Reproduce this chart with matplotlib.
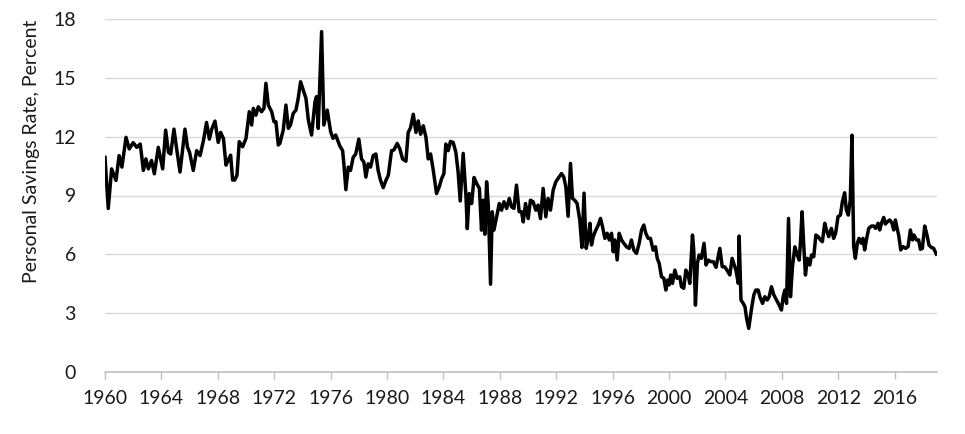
import matplotlib.pyplot as plt
import numpy as np

# personal savings rate (decimal year, percent)
year = [
    1960.00, 1960.23, 1960.47, 1960.78, 1961.00, 1961.20, 1961.49, 1961.72, 1962.00, 1962.25,
    1962.50, 1962.72, 1962.90, 1963.07, 1963.30, 1963.50, 1963.78, 1964.09, 1964.30, 1964.50,
    1964.66, 1964.89, 1965.10, 1965.32, 1965.67, 1965.85, 1966.00, 1966.26, 1966.50, 1966.74,
    1966.98, 1967.20, 1967.40, 1967.57, 1967.80, 1968.03, 1968.20, 1968.40, 1968.58, 1968.74,
    1968.91, 1969.05, 1969.20, 1969.36, 1969.52, 1969.76, 1970.00, 1970.23, 1970.40, 1970.52,
    1970.70, 1970.87, 1971.10, 1971.27, 1971.41, 1971.58, 1971.82, 1971.98, 1972.12, 1972.29,
    1972.40, 1972.64, 1972.83, 1973.00, 1973.15, 1973.35, 1973.54, 1973.70, 1973.87, 1974.06,
    1974.25, 1974.42, 1974.65, 1974.89, 1975.00, 1975.12, 1975.36, 1975.52, 1975.76, 1976.00,
    1976.17, 1976.36, 1976.64, 1976.85, 1976.95, 1977.08, 1977.25, 1977.41, 1977.60, 1977.78,
    1978.00, 1978.19, 1978.36, 1978.50, 1978.66, 1978.83, 1979.02, 1979.21, 1979.37, 1979.54,
    1979.73, 1979.92, 1980.09, 1980.32, 1980.49, 1980.72, 1980.91, 1981.10, 1981.34, 1981.50,
    1981.67, 1981.86, 1982.05, 1982.21, 1982.38, 1982.57, 1982.76, 1982.92, 1983.09, 1983.28,
    1983.51, 1983.70, 1983.87, 1984.03, 1984.17, 1984.34, 1984.50, 1984.69, 1984.88, 1985.04,
    1985.19, 1985.40, 1985.60, 1985.69, 1985.83, 1986.00, 1986.17, 1986.36, 1986.55, 1986.70,
    1986.82, 1986.94, 1987.06, 1987.18, 1987.34, 1987.46, 1987.58, 1987.77, 1987.96, 1988.12,
    1988.29, 1988.48, 1988.67, 1988.83, 1989.00, 1989.18, 1989.37, 1989.54, 1989.66, 1989.82,
    1990.01, 1990.17, 1990.36, 1990.55, 1990.71, 1990.88, 1991.07, 1991.26, 1991.42, 1991.59,
    1991.78, 1991.97, 1992.13, 1992.37, 1992.53, 1992.68, 1992.84, 1993.01, 1993.15, 1993.31,
    1993.48, 1993.67, 1993.82, 1993.97, 1994.12, 1994.27, 1994.39, 1994.50, 1994.62, 1994.81,
    1994.98, 1995.14, 1995.28, 1995.45, 1995.61, 1995.76, 1995.92, 1996.04, 1996.16, 1996.32,
    1996.46, 1996.63, 1996.79, 1996.98, 1997.17, 1997.33, 1997.50, 1997.69, 1997.88, 1998.05,
    1998.21, 1998.35, 1998.52, 1998.68, 1998.87, 1999.04, 1999.16, 1999.30, 1999.46, 1999.63,
    1999.77, 1999.89, 2000.00, 2000.12, 2000.24, 2000.41, 2000.57, 2000.76, 2000.88, 2001.04,
    2001.19, 2001.35, 2001.47, 2001.66, 2001.75, 2001.87, 2002.01, 2002.13, 2002.29, 2002.48,
    2002.62, 2002.79, 2002.96, 2003.14, 2003.33, 2003.60, 2003.77, 2003.94, 2004.13, 2004.31,
    2004.47, 2004.74, 2004.91, 2004.97, 2005.10, 2005.26, 2005.38, 2005.50, 2005.65, 2005.85,
    2006.01, 2006.15, 2006.32, 2006.44, 2006.63, 2006.79, 2006.96, 2007.10, 2007.26, 2007.43,
    2007.62, 2007.81, 2007.97, 2008.09, 2008.21, 2008.33, 2008.47, 2008.61, 2008.75, 2008.92,
    2009.09, 2009.23, 2009.32, 2009.43, 2009.55, 2009.67, 2009.81, 2009.98, 2010.10, 2010.26,
    2010.41, 2010.57, 2010.74, 2010.87, 2011.04, 2011.16, 2011.32, 2011.51, 2011.67, 2011.81,
    2011.98, 2012.15, 2012.29, 2012.45, 2012.57, 2012.71, 2012.85, 2012.97, 2013.09, 2013.21,
    2013.35, 2013.47, 2013.63, 2013.75, 2013.87, 2013.99, 2014.16, 2014.35, 2014.51, 2014.65,
    2014.82, 2014.94, 2015.06, 2015.22, 2015.34, 2015.48, 2015.65, 2015.81, 2015.93, 2016.05,
    2016.17, 2016.28, 2016.43, 2016.59, 2016.78, 2016.95, 2017.11, 2017.26, 2017.37, 2017.54,
    2017.70, 2017.82, 2017.96, 2018.13, 2018.29, 2018.43, 2018.60, 2018.76, 2018.95,
]
rate = [
    10.95, 8.34, 10.36, 9.77, 11.04, 10.45, 11.97, 11.38, 11.70, 11.46,
    11.63, 10.28, 10.87, 10.36, 10.79, 10.11, 11.46, 10.36, 12.34, 11.20,
    11.12, 12.39, 11.29, 10.20, 12.39, 11.46, 11.20, 10.28, 11.29, 11.04,
    11.80, 12.73, 11.88, 12.39, 12.80, 11.71, 12.22, 11.90, 10.55, 10.81,
    11.06, 9.79, 9.79, 10.04, 11.75, 11.49, 11.92, 13.28, 12.60, 13.45,
    13.10, 13.53, 13.28, 13.45, 14.73, 13.62, 13.28, 12.77, 12.77, 11.58,
    11.66, 12.34, 13.62, 12.43, 12.60, 13.20, 13.36, 13.96, 14.81, 14.39,
    13.96, 12.85, 12.09, 13.79, 14.05, 12.43, 17.37, 12.60, 13.36, 12.26,
    11.92, 12.09, 11.55, 11.29, 10.53, 9.30, 10.45, 10.28, 10.95, 11.12,
    11.88, 10.87, 10.70, 9.94, 10.62, 10.45, 11.04, 11.12, 10.28, 9.77,
    9.40, 9.77, 10.03, 11.29, 11.33, 11.66, 11.38, 10.87, 10.75, 12.22,
    12.47, 13.15, 12.22, 12.81, 12.13, 12.56, 11.97, 10.87, 11.12, 10.28,
    9.10, 9.44, 9.86, 10.11, 11.63, 11.29, 11.76, 11.71, 11.21, 10.20,
    8.72, 11.15, 8.93, 7.31, 9.10, 8.59, 9.92, 9.61, 9.36, 7.23,
    8.76, 7.02, 9.70, 8.51, 4.47, 8.17, 7.23, 7.91, 8.59, 8.25,
    8.68, 8.34, 8.85, 8.42, 8.34, 9.53, 8.17, 8.17, 7.65, 8.59,
    7.82, 8.76, 8.68, 8.25, 8.51, 7.82, 9.36, 7.91, 8.85, 8.25,
    9.27, 9.70, 9.87, 10.12, 9.95, 9.44, 7.94, 10.64, 8.85, 8.76,
    8.59, 7.74, 6.35, 9.12, 6.30, 6.81, 7.58, 6.47, 6.90, 7.24,
    7.49, 7.83, 7.41, 6.81, 7.07, 6.73, 7.07, 6.13, 6.73, 5.71,
    7.07, 6.73, 6.56, 6.38, 6.30, 6.73, 6.21, 6.04, 6.56, 7.24,
    7.49, 7.07, 6.81, 6.81, 6.21, 6.38, 5.79, 5.53, 4.85, 4.77,
    4.17, 4.68, 4.43, 4.94, 4.51, 5.19, 4.77, 4.85, 4.34, 4.26,
    5.19, 4.94, 4.51, 6.98, 6.21, 3.40, 5.53, 5.96, 5.79, 6.56,
    5.45, 5.70, 5.62, 5.62, 5.33, 6.30, 5.36, 5.36, 5.16, 4.94,
    5.79, 5.19, 4.51, 6.93, 3.66, 3.49, 3.32, 2.72, 2.21, 3.23,
    3.92, 4.17, 4.17, 3.83, 3.49, 3.83, 3.66, 3.83, 4.34, 3.92,
    3.66, 3.40, 3.15, 3.83, 4.17, 3.49, 7.83, 3.83, 5.36, 6.38,
    5.96, 5.70, 6.64, 8.17, 6.47, 4.94, 5.79, 5.45, 5.96, 5.87,
    6.98, 6.90, 6.73, 6.64, 7.58, 7.24, 6.90, 7.32, 6.81, 7.07,
    7.92, 8.00, 8.68, 9.14, 8.26, 8.00, 8.77, 12.08, 6.39, 5.79,
    6.56, 6.81, 6.56, 6.81, 6.22, 6.73, 7.32, 7.44, 7.44, 7.32,
    7.58, 7.24, 7.58, 7.88, 7.54, 7.66, 7.75, 7.58, 7.24, 7.75,
    7.32, 6.98, 6.22, 6.39, 6.30, 6.39, 7.24, 6.73, 6.98, 6.73,
    6.73, 6.25, 6.30, 7.44, 6.98, 6.47, 6.35, 6.30, 6.01,
]

x_ticks = list(range(1960, 2017, 4))
y_ticks = [0, 3, 6, 9, 12, 15, 18]

plt.rcParams['font.family'] = ['Lato', 'DejaVu Sans']

fig = plt.figure(figsize=(9.65, 4.34), dpi=100)
ax = fig.add_axes([105 / 965, 1 - 371.7 / 434, 832 / 965, 352.4 / 434])

ax.plot(year, rate, color='black', linewidth=2.5, solid_joinstyle='round', zorder=3)

ax.set_xlim(1960, 2019)
ax.set_ylim(0, 18)
ax.set_xticks(x_ticks)
ax.set_yticks(y_ticks)
ax.set_xticklabels([str(t) for t in x_ticks])
ax.set_yticklabels([str(t) for t in y_ticks])

ax.grid(axis='y', color='#d9d9d9', linewidth=1.0)
ax.set_axisbelow(True)
for side in ['top', 'right', 'left']:
    ax.spines[side].set_visible(False)
ax.spines['bottom'].set_color('#bfbfbf')
ax.spines['bottom'].set_linewidth(1.2)
ax.spines['bottom'].set_zorder(4)

ax.tick_params(axis='x', direction='out', length=5, width=1.0, color='#bfbfbf',
               labelsize=14, labelcolor='#1a1a1a', pad=8)
ax.tick_params(axis='y', length=0, labelsize=14, labelcolor='#1a1a1a', pad=21)

fig.text(32 / 965, 1 - 151.5 / 434, 'Personal Savings Rate, Percent', rotation=90,
         ha='center', va='center', fontsize=14, color='#1a1a1a')

fig.savefig('out.png', dpi=100)
